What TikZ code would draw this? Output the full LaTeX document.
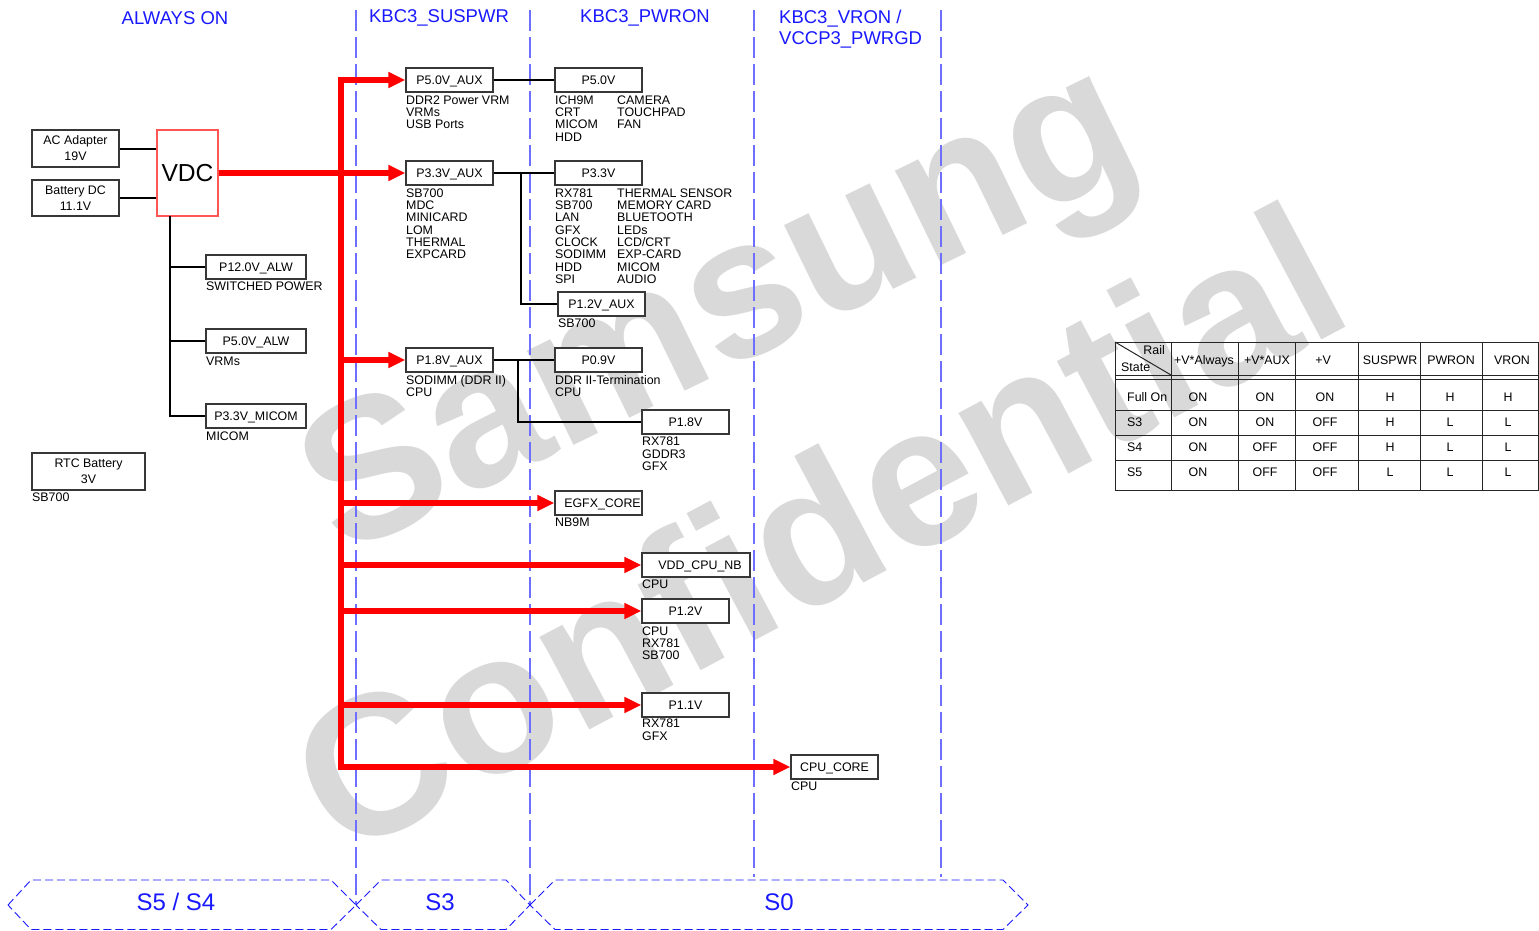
\documentclass[tikz,border=0pt]{standalone}
\usepackage{fontspec}
\setmainfont{Liberation Sans}
\usetikzlibrary{arrows.meta}
\definecolor{hdrblue}{RGB}{25,25,255}
\definecolor{divblue}{RGB}{110,110,255}
\definecolor{wmgray}{RGB}{217,217,217}
\definecolor{bxline}{RGB}{55,55,55}
\definecolor{vdcred}{RGB}{255,85,85}
\definecolor{busred}{RGB}{255,0,0}
\newcommand{\dgSmall}{\fontsize{12.4}{12.3}\selectfont}
\newcommand{\dgTwo}{\fontsize{12.4}{16}\selectfont}
\newcommand{\dgHdr}{\fontsize{18.5}{21}\selectfont}
\newcommand{\dgHex}{\fontsize{24}{26}\selectfont}
\newcommand{\dgVdc}{\fontsize{24.6}{26}\selectfont}
\newcommand{\dgWm}{\fontsize{199}{199}\selectfont\bfseries}
\begin{document}
\begin{tikzpicture}[x=1pt,y=-1pt,
  bx/.style={draw=bxline,line width=1.1pt,fill=white,inner sep=0pt,
    minimum width=87pt,minimum height=24pt,font=\dgSmall,text height=8.9pt,text depth=0pt},
  bxtwo/.style={draw=bxline,line width=1.1pt,fill=white,inner sep=0pt,
    minimum width=87pt,font=\dgTwo,align=center},
  lbl/.style={anchor=north west,inner sep=0pt,align=left,font=\dgSmall},
  hdr/.style={inner sep=0pt,font=\dgHdr,text=hdrblue},
  hexlbl/.style={inner sep=0pt,font=\dgHex,text=hdrblue},
  tbl/.style={inner sep=0pt,font=\dgSmall,text height=8.9pt,text depth=0pt},
  wire/.style={draw=black,line width=2pt},
  bus/.style={draw=busred,line width=6.5pt,line join=miter},
  tip/.style={-{Triangle[length=17pt,width=15pt]}},
  divider/.style={draw=divblue,line width=1.5pt,dash pattern=on 21pt off 6pt},
  hexa/.style={draw=hdrblue,line width=0.9pt,dash pattern=on 8pt off 4pt},
  tline/.style={draw=black!85,line width=1pt},
  wm/.style={inner sep=0pt,font=\dgWm,text=wmgray}]

\useasboundingbox (0,0) rectangle (1539,930);
\fill[white] (0,0) rectangle (1539,930);

% watermark
\node[wm,rotate=26] (wmA) at (724,318) {Samsung};
\node[wm,rotate=28] (wmB) at (817,528) {Confidential};

% dividers
\draw[divider] (356,10) -- (356,905);
\draw[divider] (530,10) -- (530,905);
\draw[divider] (754,10) -- (754,877);
\draw[divider] (941,10) -- (941,877);

% headers
\node[hdr] (hAlw) at (175,18) {ALWAYS ON};
\node[hdr] (hSus) at (439,18) {KBC3\_SUSPWR};
\node[hdr] (hPwr) at (645,18) {KBC3\_PWRON};
\node[hdr,anchor=north west,align=left,font=\fontsize{18.5}{21}\selectfont] (hVr) at (779,10) {KBC3\_VRON /\\VCCP3\_PWRGD};

% state hexagons
\draw[hexa] (8,905) -- (31,880) -- (331,880) -- (356,905) -- (331,929.5) -- (31,929.5) -- cycle;
\draw[hexa] (356,905) -- (381,880) -- (506,880) -- (530,905) -- (506,929.5) -- (381,929.5) -- cycle;
\draw[hexa] (530,905) -- (555,880) -- (1003,880) -- (1028,905) -- (1003,929.5) -- (555,929.5) -- cycle;
\node[hexlbl] (sA) at (176,902) {S5 / S4};
\node[hexlbl] (sB) at (440,902) {S3};
\node[hexlbl] (sC) at (779,902) {S0};

% left column
\node[bxtwo,minimum height=37pt] (ac) at (75.5,148.5) {AC Adapter\\19V};
\node[bxtwo,minimum height=36pt] (bat) at (75.5,198) {Battery DC\\11.1V};
\node[draw=vdcred,line width=1.1pt,fill=white,minimum width=61pt,minimum height=86pt,inner sep=0pt,font=\dgVdc] (vdc) at (187.5,173) {VDC};
\node[bx,minimum width=100pt] (p12alw) at (256,267) {P12.0V\_ALW};
\node[bx,minimum width=100pt] (p5alw) at (256,341) {P5.0V\_ALW};
\node[bx,minimum width=100pt] (p33micom) at (256,416) {P3.3V\_MICOM};
\node[bxtwo,minimum width=113pt,minimum height=37pt] (rtc) at (88.5,471.5) {RTC Battery\\3V};

\node[lbl] (l12alw) at (206,282) {SWITCHED POWER};
\node[lbl] (l5alw) at (206,356.5) {VRMs};
\node[lbl] (l33micom) at (206,431.5) {MICOM};
\node[lbl] (lrtc) at (32,493) {SB700};

\draw[wire] (ac.east |- 0,149) -- (vdc.west |- 0,149);
\draw[wire] (bat.east |- 0,198) -- (vdc.west |- 0,198);
\coordinate (vt) at (170,216);
\draw[wire] (vt) |- (p12alw.west);
\draw[wire] (vt) |- (p5alw.west);
\draw[wire] (vt) |- (p33micom.west);

% suspwr column
\node[bx] (p5aux) at (449.5,80) {P5.0V\_AUX};
\node[bx] (p33aux) at (449.5,173) {P3.3V\_AUX};
\node[bx] (p18aux) at (449.5,360) {P1.8V\_AUX};
\node[lbl] (l5aux) at (406,95.5) {DDR2 Power VRM\\VRMs\\USB Ports};
\node[lbl] (l33aux) at (406,188.5) {SB700\\MDC\\MINICARD\\LOM\\THERMAL\\EXPCARD};
\node[lbl] (l18aux) at (406,375) {SODIMM (DDR II)\\CPU};

% pwron column
\node[bx] (p5) at (598.5,80) {P5.0V};
\node[bx] (p33) at (598.5,173) {P3.3V};
\node[bx] (p12aux) at (601.5,304) {P1.2V\_AUX};
\node[bx] (p09) at (598.5,360) {P0.9V};
\node[bx] (egfx) at (598.5,503) {\hspace*{8pt}EGFX\_CORE};
\node[lbl] (l5a) at (555,95.5) {ICH9M\\CRT\\MICOM\\HDD};
\node[lbl] (l5b) at (617,95.5) {CAMERA\\TOUCHPAD\\FAN};
\node[lbl] (l33a) at (555,188.5) {RX781\\SB700\\LAN\\GFX\\CLOCK\\SODIMM\\HDD\\SPI};
\node[lbl] (l33b) at (617,188.5) {THERMAL SENSOR\\MEMORY CARD\\BLUETOOTH\\LEDs\\LCD/CRT\\EXP-CARD\\MICOM\\AUDIO};
\node[lbl] (l12aux) at (558,319) {SB700};
\node[lbl] (l09) at (555,375) {DDR II-Termination\\CPU};
\node[lbl] (legfx) at (555,518) {NB9M};

% vron column
\node[bx] (p18) at (685.5,422) {P1.8V};
\node[bx,minimum width=108pt] (vddnb) at (696,565) {\hspace*{8pt}VDD\_CPU\_NB};
\node[bx] (p12v) at (685.5,611) {P1.2V};
\node[bx] (p11v) at (685.5,705) {P1.1V};
\node[bx] (cpucore) at (834.5,767) {CPU\_CORE};
\node[lbl] (l18) at (642,437) {RX781\\GDDR3\\GFX};
\node[lbl] (lvddnb) at (642,580) {CPU};
\node[lbl] (l12v) at (642,626.5) {CPU\\RX781\\SB700};
\node[lbl] (l11v) at (642,719) {RX781\\GFX};
\node[lbl] (lcpucore) at (791,782) {CPU};

% black wires
\draw[wire] (p5aux.east) -- (p5.west);
\draw[wire] (p33aux.east) -- (p33.west);
\coordinate (j1) at (521,173);
\draw[wire] (j1) |- (p12aux.west);
\draw[wire] (p18aux.east) -- (p09.west);
\coordinate (j2) at (518,360);
\draw[wire] (j2) |- (p18.west);

% red power bus
\coordinate (btop) at (341,80);
\coordinate (bbot) at (341,767);
\coordinate (b3) at (341,360);
\coordinate (b4) at (341,503);
\coordinate (b5) at (341,565);
\coordinate (b6) at (341,611);
\coordinate (b7) at (341,705);
\draw[bus,{Triangle[length=17pt,width=15pt]}-{Triangle[length=17pt,width=15pt]}] (p5aux.west) -- (btop) -- (bbot) -- (cpucore.west);
\draw[bus,tip] (vdc.east) -- (p33aux.west);
\draw[bus,tip] (b3) -- (p18aux.west);
\draw[bus,tip] (b4) -- (egfx.west);
\draw[bus,tip] (b5) -- (vddnb.west);
\draw[bus,tip] (b6) -- (p12v.west);
\draw[bus,tip] (b7) -- (p11v.west);

% table
\foreach \yy in {342,375,379,410,435,460,490}
  \draw[tline] (1115,\yy) -- (1538.5,\yy);
\foreach \xx in {1115,1171,1238,1295,1358,1420,1482,1538.5}
  \draw[tline] (\xx,342) -- (\xx,490);
\draw[tline] (1115,342) -- (1171,375);
\node[tbl,anchor=east] (tRail) at (1165,350) {Rail};
\node[tbl,anchor=west] (tState) at (1121,367) {State};
\node[tbl] (tc1) at (1204,360) {+V*Always};
\node[tbl] (tc2) at (1267,360) {+V*AUX};
\node[tbl] (tc3) at (1323,360) {+V};
\node[tbl] (tc4) at (1390,360) {SUSPWR};
\node[tbl] (tc5) at (1451,360) {PWRON};
\node[tbl] (tc6) at (1512,360) {VRON};
\foreach \lab/\yy/\va/\vb/\vc/\vd/\ve/\vf [count=\i] in
  {Full On/397/ON/ON/ON/H/H/H, S3/422/ON/ON/OFF/H/L/L,
   S4/447/ON/OFF/OFF/H/L/L, S5/472/ON/OFF/OFF/L/L/L}{
  \node[tbl,anchor=west] (rl\i) at (1127,\yy) {\lab};
  \node[tbl] (ra\i) at (1198,\yy) {\va};
  \node[tbl] (rb\i) at (1265,\yy) {\vb};
  \node[tbl] (rc\i) at (1325,\yy) {\vc};
  \node[tbl] (rd\i) at (1390,\yy) {\vd};
  \node[tbl] (re\i) at (1450,\yy) {\ve};
  \node[tbl] (rf\i) at (1508,\yy) {\vf};
}
\end{tikzpicture}
\end{document}
